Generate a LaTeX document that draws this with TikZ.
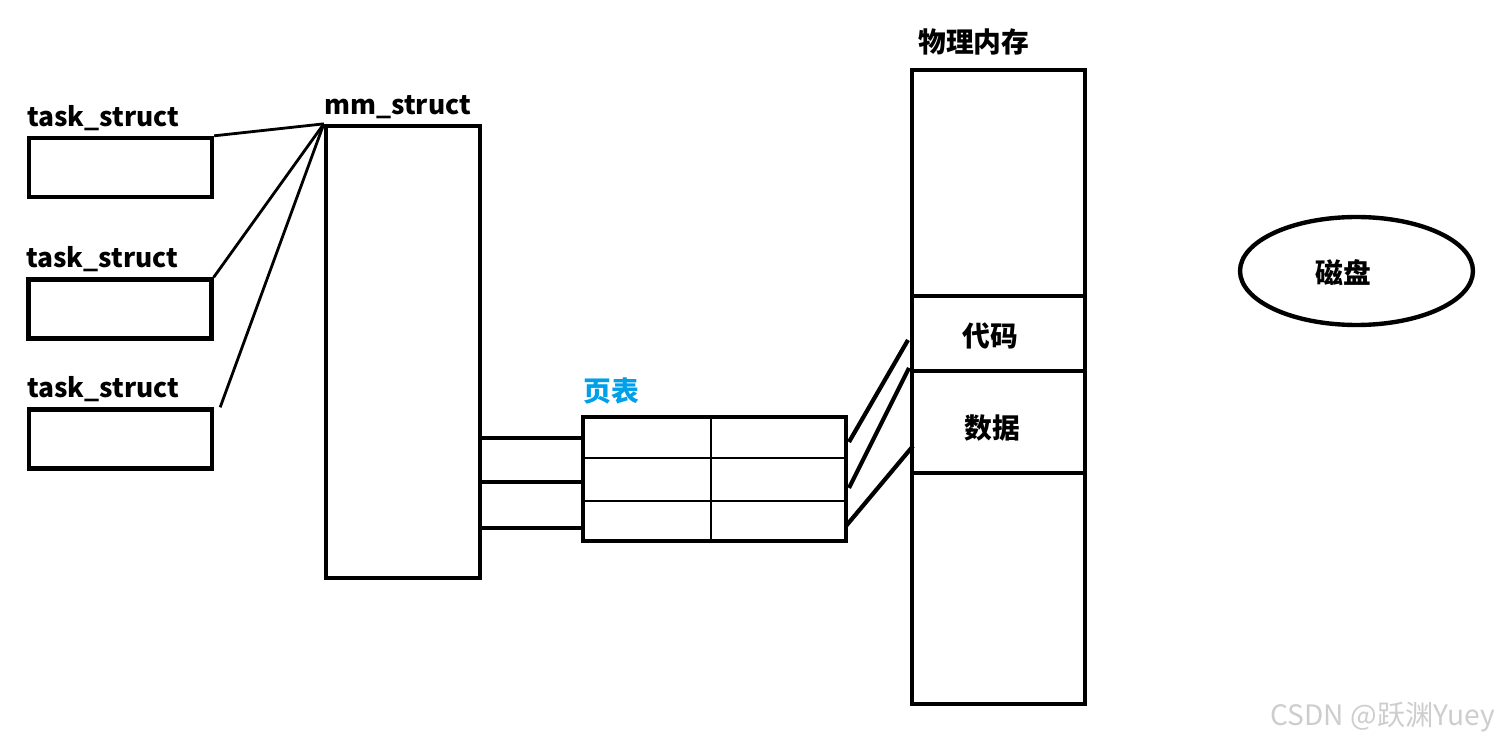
\documentclass[tikz,border=0pt]{standalone}
\usepackage{fontspec}
\setmainfont{Noto Sans CJK SC}
\usetikzlibrary{positioning,shapes.geometric,calc}
\definecolor{tableblue}{RGB}{0,160,233}
\definecolor{markgray}{RGB}{205,205,205}
\tikzset{
  box/.style={draw,line width=2.5pt,inner sep=0pt},
  lbl/.style={inner sep=0pt,font=\fontsize{15}{18}\selectfont\bfseries},
  cjk/.style={inner sep=0pt,font=\fontsize{15.8}{18}\selectfont\bfseries},
  link/.style={line width=1.6pt},
  wire/.style={line width=2.4pt}
}
\begin{document}
\begin{tikzpicture}[x=0.02cm,y=-0.02cm]
\useasboundingbox (0,0) rectangle (1499,743);
\node[box,minimum width=3.66cm,minimum height=1.18cm] (t1) at (120.5,167.5) {};
\node[box,minimum width=3.66cm,minimum height=1.18cm] (t2) at (120,309) {};
\node[box,minimum width=3.66cm,minimum height=1.18cm] (t3) at (120.5,439) {};
\node[lbl,anchor=base west] (l1) at (27,127) {task\_struct};
\node[lbl,anchor=base west] (l2) at (26,268) {task\_struct};
\node[lbl,anchor=base west] (l3) at (27,398) {task\_struct};
\node[box,minimum width=3.08cm,minimum height=9.04cm] (mm) at (403,352) {};
\node[lbl,anchor=base west] (lmm) at (324,115) {mm\_struct};
\draw[link] (t1.north east) -- (mm.north west);
\draw[link] (t2.north east) -- (mm.north west);
\draw[link] ([xshift=0.12cm]t3.north east) -- (mm.north west);
\node[box,line width=2.8pt,minimum width=5.26cm,minimum height=2.48cm] (pt) at (714.5,479) {};
\node[cjk,anchor=base west,text=tableblue] (lpt) at (583,401) {页表};
\draw[line width=1.3pt] (711,417) -- (711,541);
\draw[line width=1.3pt] (pt.west |- 0,458) -- (pt.east |- 0,458);
\draw[line width=1.3pt] (pt.west |- 0,501) -- (pt.east |- 0,501);
\coordinate (r1) at (583,438);
\coordinate (r2) at (583,482);
\coordinate (r3) at (583,528);
\draw[wire] (mm.east |- r1) -- (r1);
\draw[wire] (mm.east |- r2) -- (r2);
\draw[wire] ([xshift=-0.06cm]mm.east |- r3) -- (r3);
\node[box,minimum width=3.46cm,minimum height=4.52cm] (mtop) at (998.5,183) {};
\node[box,minimum width=3.46cm,minimum height=1.5cm] (mcode) at (998.5,333.5) {};
\node[box,minimum width=3.46cm,minimum height=2.04cm] (mdata) at (998.5,422) {};
\node[box,minimum width=3.46cm,minimum height=4.62cm] (mbot) at (998.5,588.5) {};
\node[cjk] (tcode) at (990,336) {代码};
\node[cjk] (tdata) at (992,428) {数据};
\node[cjk,anchor=base west] (lmem) at (918,53) {物理内存};
\coordinate (p1) at (849,442);
\coordinate (p2) at (849,488);
\coordinate (p3) at (846,526);
\coordinate (q1) at (908,340);
\coordinate (q2) at (909,368);
\coordinate (q3) at (913,446);
\draw[wire] (p1) -- (q1);
\draw[wire] (p2) -- (q2);
\draw[wire] (p3) -- (q3);
\node[box,ellipse,minimum width=4.66cm,minimum height=2.16cm] (disk) at (1356.5,271) {};
\node[cjk] (tdisk) at (1343,273) {磁盘};
\node[anchor=base east,inner sep=0pt,text=markgray,font=\fontsize{16}{18}\selectfont] (mark) at (1495,725) {CSDN @跃渊Yuey};
\end{tikzpicture}
\end{document}
